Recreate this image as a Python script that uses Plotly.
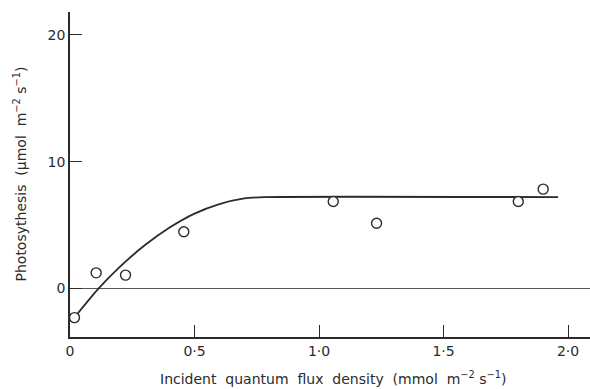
import plotly.graph_objects as go

# Observed data points (open circles)
obs_x = [0.018, 0.105, 0.223, 0.457, 1.057, 1.231, 1.80, 1.90]
obs_y = [-2.3, 1.23, 1.05, 4.47, 6.85, 5.14, 6.85, 7.83]

# Fitted response curve
fit_x = [0.03, 0.115, 0.2, 0.3, 0.4, 0.5, 0.6, 0.7, 0.78, 1.96]
fit_y = [-2.0, 0.0, 1.7, 3.4, 4.8, 5.9, 6.65, 7.1, 7.2, 7.2]

x_ticks = [0, 0.5, 1.0, 1.5, 2.0]
x_ticktext = ["0", "0·5", "1·0", "1·5", "2·0"]
y_ticks = [0, 10, 20]
y_ticktext = ["0", "10", "20"]

ink = "#2b2b2b"
font_family = "DejaVu Sans, Verdana, sans-serif"

fig = go.Figure()
fig.add_trace(go.Scatter(
    x=fit_x, y=fit_y, mode="lines",
    line=dict(color=ink, width=1.8, shape="spline", smoothing=0.6),
    hoverinfo="skip", showlegend=False,
))
fig.add_trace(go.Scatter(
    x=obs_x, y=obs_y, mode="markers",
    marker=dict(symbol="circle", size=10, color="white",
                line=dict(color=ink, width=1.4)),
    showlegend=False,
))

fig.update_layout(
    width=590, height=389,
    margin=dict(l=70, r=0, t=12, b=52),
    paper_bgcolor="white", plot_bgcolor="white",
    font=dict(family=font_family, size=14, color=ink),
    xaxis=dict(
        range=[0, 2.088], tickvals=x_ticks, ticktext=x_ticktext,
        ticks="inside", ticklen=12, tickwidth=1.2, tickcolor=ink,
        showline=True, linecolor=ink, linewidth=1.8,
        showgrid=False, zeroline=False,
        tickfont=dict(size=14, color=ink),
    ),
    yaxis=dict(
        range=[-3.83, 21.8], tickvals=y_ticks, ticktext=y_ticktext,
        ticks="inside", ticklen=12, tickwidth=1.2, tickcolor=ink,
        showline=True, linecolor=ink, linewidth=1.8,
        showgrid=False, zeroline=True, zerolinecolor="#555", zerolinewidth=1,
        tickfont=dict(size=14, color=ink),
    ),
    annotations=[
        dict(text="Incident  quantum  flux  density  (mmol  m<sup>−2</sup> s<sup>−1</sup>)",
             xref="paper", yref="paper", x=0.506, y=0, yshift=-41,
             showarrow=False, xanchor="center", yanchor="middle",
             font=dict(size=14, color=ink)),
        dict(text="Photosythesis  (μmol  m<sup>−2</sup> s<sup>−1</sup>)",
             xref="paper", yref="paper", x=0, xshift=-50, y=0.5,
             showarrow=False, textangle=-90, xanchor="center", yanchor="middle",
             font=dict(size=14, color=ink)),
    ],
)

fig.write_html("out.html", config={"displayModeBar": False},
               post_script="document.body.style.margin='0';")
